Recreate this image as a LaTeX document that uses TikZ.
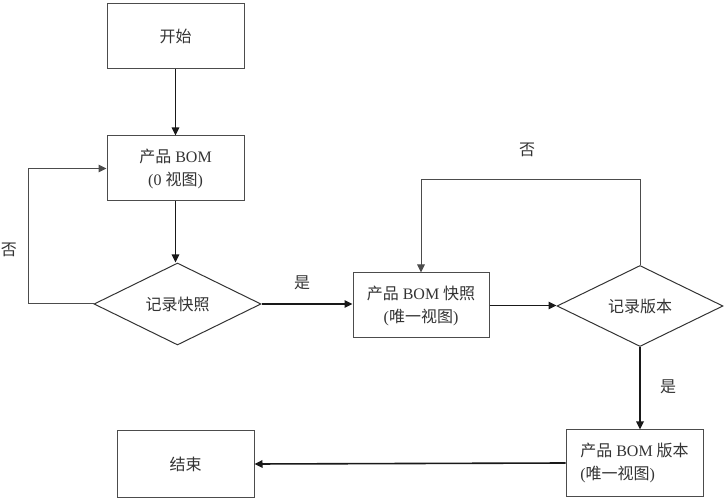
\documentclass[tikz,border=0pt]{standalone}
\usepackage{fontspec}
\setmainfont{Liberation Serif}
\newfontfamily\cjk{Noto Sans CJK SC}
\usetikzlibrary{shapes.geometric,arrows.meta,calc}
\begin{document}
\begin{tikzpicture}[x=1pt,y=1pt,
  font=\fontsize{16pt}{23pt}\selectfont,
  every node/.append style={text=black!80},
  procbox/.style={draw=black!70,line width=1pt,rectangle,minimum width=137pt,minimum height=65pt,inner sep=2pt,align=center},
  decision/.style={draw=black!80,line width=1pt,diamond,inner sep=0pt,minimum width=167pt,minimum height=82pt},
  flow/.style={draw=black!90,line width=1.6pt,-{Triangle[length=8pt,width=7.5pt]}},
  loopline/.style={draw=black!70,line width=1pt,-{Triangle[length=8pt,width=7.5pt]}},
  lbl/.style={inner sep=0pt}]
\useasboundingbox (0,0) rectangle (727,500);
\node[procbox] (start) at (175.5,464) {\cjk 开始};
\node[procbox] (bom) at (175.5,331.5) {{\cjk 产品} BOM\\({0} {\cjk 视图})};
\node[decision] (d1) at (177.5,196) {\cjk 记录快照};
\node[procbox,minimum width=136pt] (snap) at (421,194.5) {{\cjk 产品} BOM {\cjk 快照}\\({\cjk 唯一视图})};
\node[decision,minimum width=166pt,minimum height=81pt] (d2) at (640,194) {\cjk 记录版本};
\node[procbox,minimum height=66pt,align=left] (ver) at (634.5,37) {{\cjk 产品} BOM {\cjk 版本}\\({\cjk 唯一视图})};
\node[procbox,minimum height=66pt] (end) at (185.5,36) {\cjk 结束};
% connectors
\draw[flow] (start.south) -- (bom.north);
\draw[flow] (bom.south) -- (bom.south |- d1.north);
\draw[loopline] (d1.west) -- ++(-65,0) |- (bom.west);
\node[lbl] (no1) at (9,250) {\cjk 否};
\draw[flow] (d1.east) -- (d1.east -| snap.west);
\node[lbl] (yes1) at (302,217) {\cjk 是};
\draw[flow] (snap.east) -- (snap.east -| d2.west);
\draw[loopline] (d2.north) -- ++(0,85) -| (snap.north);
\node[lbl] (no2) at (527,350) {\cjk 否};
\draw[flow] (d2.south) -- (d2.south |- ver.north);
\node[lbl] (yes2) at (668,113) {\cjk 是};
\draw[flow] (ver.west) -- (end.east);
\end{tikzpicture}
\end{document}
